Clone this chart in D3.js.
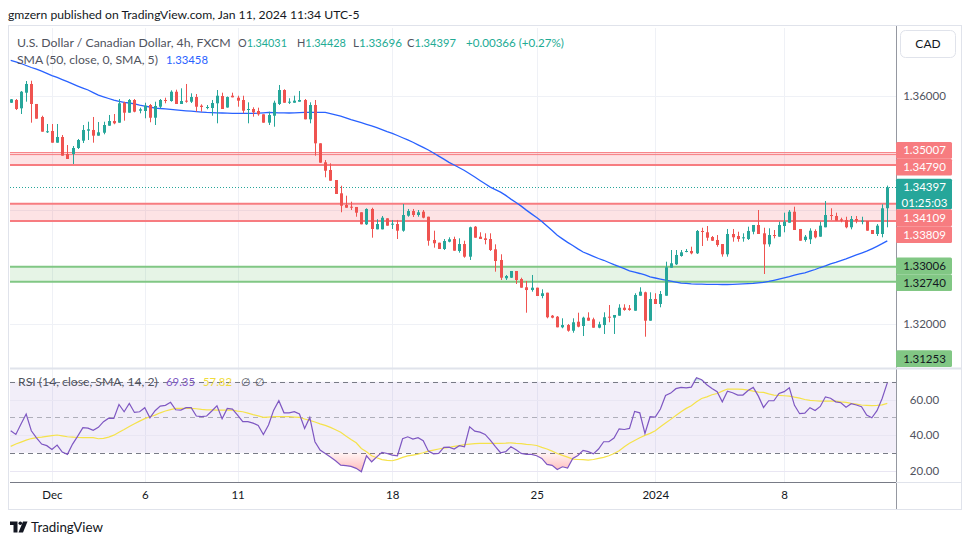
<!DOCTYPE html>
<html><head><meta charset="utf-8">
<script src="https://cdn.jsdelivr.net/npm/d3@7"></script>
<style>
html,body{margin:0;padding:0;background:#fff;}
svg text{font-family:Lato,"Open Sans",Roboto,sans-serif;}
</style></head><body>
<svg id="c" width="970" height="545"></svg>
<script>
// ---------------- DATA ----------------
const openP = [1.35882,1.35930,1.35784,1.36058,1.36211,1.35860,1.35632,1.35374,1.35386,1.35181,
1.35281,1.34982,1.34982,1.35088,1.35216,1.35391,1.35404,1.35304,1.35356,1.35479,
1.35561,1.35532,1.35882,1.35707,1.35930,1.35742,1.35737,1.35842,1.35619,1.35812,
1.35930,1.35912,1.36075,1.35860,1.35918,1.35900,1.35982,1.35830,1.35789,1.35789,
1.35872,1.36000,1.35798,1.36005,1.35970,1.35930,1.35763,1.35772,1.35737,1.35679,
1.35532,1.35654,1.35860,1.36105,1.35882,1.35882,1.35900,1.35930,1.35591,1.35842,
1.35170,1.34837,1.34702,1.34526,1.34293,1.34088,1.34058,1.34053,1.33960,1.33749,
1.34018,1.33661,1.33661,1.33854,1.33749,1.33754,1.33637,1.33900,1.33982,1.33912,
1.33970,1.33882,1.33474,1.33426,1.33316,1.33444,1.33491,1.33281,1.33403,1.33181,
1.33707,1.33532,1.33503,1.33491,1.33310,1.33123,1.32802,1.32812,1.32930,1.32789,
1.32644,1.32596,1.32637,1.32491,1.32549,1.32146,1.32128,1.31942,1.31982,1.31882,
1.32040,1.31965,1.32111,1.32082,1.31935,1.31982,1.32128,1.32111,1.32146,1.32286,
1.32275,1.32233,1.32496,1.32556,1.32058,1.32439,1.32351,1.32496,1.32988,1.33047,
1.33193,1.33263,1.33281,1.33240,1.33632,1.33609,1.33526,1.33474,1.33403,1.33223,
1.33579,1.33544,1.33503,1.33491,1.33619,1.33737,1.33591,1.33398,1.33561,1.33532,
1.33719,1.33777,1.33970,1.33667,1.33474,1.33486,1.33632,1.33532,1.33697,1.33912,
1.33895,1.33837,1.33825,1.33697,1.33842,1.33795,1.33807,1.33649,1.33579,1.33579,
1.34031];
const highP = [1.35947,1.35947,1.36088,1.36263,1.36268,1.35860,1.35654,1.35509,1.35509,1.35509,
1.35316,1.35140,1.35123,1.35246,1.35491,1.35549,1.35632,1.35544,1.35549,1.35667,
1.35684,1.35947,1.35900,1.35947,1.35947,1.35795,1.35882,1.35860,1.35900,1.35947,
1.35970,1.36100,1.36111,1.36135,1.36211,1.36047,1.36035,1.35854,1.35842,1.35930,
1.36105,1.36058,1.35991,1.36058,1.36005,1.36005,1.35889,1.35802,1.35795,1.35679,
1.35725,1.35918,1.36193,1.36118,1.35960,1.36005,1.36088,1.35947,1.35889,1.35930,
1.35170,1.34877,1.34819,1.34526,1.34426,1.34251,1.34146,1.34053,1.33960,1.34030,
1.34040,1.33837,1.33895,1.33854,1.33825,1.33825,1.34105,1.34018,1.34018,1.34000,
1.34000,1.33882,1.33637,1.33426,1.33491,1.33521,1.33532,1.33503,1.33461,1.33707,
1.33719,1.33609,1.33591,1.33591,1.33398,1.33223,1.32860,1.32930,1.32930,1.32812,
1.32754,1.32860,1.32637,1.32609,1.32549,1.32158,1.32140,1.32100,1.32000,1.32100,
1.32198,1.32128,1.32205,1.32111,1.32040,1.32205,1.32333,1.32158,1.32346,1.32346,
1.32333,1.32539,1.32644,1.32567,1.32556,1.32539,1.32579,1.33093,1.33298,1.33298,
1.33298,1.33316,1.33356,1.33649,1.33689,1.33719,1.33544,1.33561,1.33403,1.33667,
1.33667,1.33619,1.33591,1.33707,1.33737,1.34000,1.33689,1.33679,1.33649,1.33795,
1.33953,1.34000,1.34058,1.33667,1.33561,1.33679,1.33661,1.33795,1.34158,1.34030,
1.33953,1.33865,1.33882,1.33895,1.33895,1.33882,1.33807,1.33649,1.33754,1.34100,
1.34428];
const lowP = [1.35877,1.35754,1.35684,1.35900,1.35532,1.35602,1.35374,1.35351,1.35181,1.35181,
1.34953,1.34895,1.34807,1.35070,1.35175,1.35228,1.35181,1.35304,1.35328,1.35479,
1.35504,1.35532,1.35567,1.35707,1.35714,1.35696,1.35609,1.35539,1.35491,1.35784,
1.35872,1.35900,1.35860,1.35860,1.35882,1.35877,1.35725,1.35725,1.35767,1.35654,
1.35521,1.35772,1.35795,1.35977,1.35812,1.35696,1.35521,1.35637,1.35654,1.35532,
1.35491,1.35461,1.35842,1.35882,1.35860,1.35882,1.35900,1.35591,1.35521,1.34953,
1.34830,1.34574,1.34514,1.34281,1.33960,1.34040,1.34000,1.33882,1.33749,1.33737,
1.33514,1.33661,1.33661,1.33725,1.33667,1.33491,1.33619,1.33882,1.33877,1.33882,
1.33854,1.33374,1.33339,1.33316,1.33298,1.33433,1.33286,1.33251,1.33163,1.33123,
1.33514,1.33491,1.33398,1.33281,1.32918,1.32772,1.32772,1.32807,1.32702,1.32637,
1.32198,1.32567,1.32491,1.32451,1.32100,1.32100,1.31942,1.31925,1.31865,1.31847,
1.31942,1.31789,1.32058,1.31935,1.31925,1.31825,1.32030,1.31825,1.32146,1.32233,
1.32233,1.32233,1.32496,1.31777,1.32058,1.32351,1.32293,1.32496,1.32988,1.33035,
1.33181,1.33258,1.33223,1.33228,1.33368,1.33461,1.33456,1.33356,1.33181,1.33181,
1.33444,1.33444,1.33444,1.33474,1.33574,1.33579,1.32877,1.33356,1.33503,1.33532,
1.33609,1.33777,1.33649,1.33461,1.33444,1.33403,1.33503,1.33532,1.33697,1.33825,
1.33812,1.33784,1.33679,1.33661,1.33767,1.33749,1.33637,1.33579,1.33544,1.33521,
1.33696];
const closeP = [1.35942,1.35772,1.36075,1.36211,1.35860,1.35602,1.35374,1.35381,1.35181,1.35281,
1.34953,1.34895,1.35088,1.35228,1.35404,1.35416,1.35304,1.35363,1.35491,1.35561,
1.35521,1.35872,1.35707,1.35930,1.35725,1.35767,1.35830,1.35619,1.35825,1.35930,
1.35912,1.36075,1.35860,1.35912,1.35907,1.35982,1.35812,1.35807,1.35807,1.35877,
1.36005,1.35772,1.35982,1.35977,1.35918,1.35742,1.35772,1.35714,1.35679,1.35532,
1.35667,1.35882,1.36105,1.35882,1.35900,1.35918,1.35930,1.35591,1.35842,1.35170,
1.34830,1.34689,1.34514,1.34281,1.34075,1.34040,1.34040,1.33953,1.33749,1.34018,
1.33667,1.33754,1.33865,1.33725,1.33760,1.33637,1.33912,1.33982,1.33912,1.33960,
1.33865,1.33461,1.33416,1.33316,1.33456,1.33486,1.33286,1.33403,1.33181,1.33697,
1.33514,1.33491,1.33474,1.33298,1.33105,1.32812,1.32842,1.32930,1.32772,1.32637,
1.32596,1.32637,1.32491,1.32539,1.32118,1.32111,1.31942,1.31982,1.31882,1.32030,
1.31953,1.32111,1.32058,1.31935,1.31995,1.32118,1.32111,1.32158,1.32286,1.32246,
1.32246,1.32509,1.32567,1.32058,1.32439,1.32351,1.32526,1.32995,1.33065,1.33211,
1.33258,1.33281,1.33240,1.33632,1.33619,1.33514,1.33461,1.33386,1.33223,1.33579,
1.33521,1.33491,1.33521,1.33632,1.33737,1.33579,1.33398,1.33561,1.33544,1.33737,
1.33795,1.33970,1.33649,1.33461,1.33532,1.33637,1.33521,1.33725,1.33912,1.33895,
1.33812,1.33812,1.33697,1.33842,1.33812,1.33812,1.33637,1.33579,1.33725,1.34030,
1.34397];
const sma50 = [1.36626,1.36600,1.36570,1.36535,1.36500,1.36470,1.36435,1.36398,1.36358,1.36325,
1.36289,1.36251,1.36212,1.36175,1.36140,1.36105,1.36060,1.36014,1.35986,1.35956,
1.35926,1.35905,1.35889,1.35877,1.35863,1.35839,1.35821,1.35807,1.35789,1.35781,
1.35774,1.35765,1.35758,1.35749,1.35740,1.35733,1.35726,1.35718,1.35711,1.35707,
1.35705,1.35702,1.35698,1.35696,1.35696,1.35696,1.35696,1.35696,1.35698,1.35705,
1.35711,1.35709,1.35705,1.35704,1.35702,1.35704,1.35709,1.35711,1.35711,1.35711,
1.35711,1.35711,1.35691,1.35670,1.35646,1.35618,1.35586,1.35558,1.35532,1.35504,
1.35475,1.35444,1.35409,1.35375,1.35344,1.35307,1.35268,1.35230,1.35188,1.35144,
1.35100,1.35053,1.35000,1.34946,1.34893,1.34835,1.34789,1.34742,1.34693,1.34637,
1.34579,1.34519,1.34461,1.34402,1.34358,1.34314,1.34256,1.34191,1.34133,1.34068,
1.33998,1.33932,1.33867,1.33800,1.33719,1.33639,1.33556,1.33493,1.33432,1.33377,
1.33318,1.33263,1.33225,1.33188,1.33149,1.33118,1.33079,1.33040,1.33005,1.32970,
1.32933,1.32909,1.32886,1.32860,1.32825,1.32807,1.32788,1.32770,1.32753,1.32735,
1.32718,1.32711,1.32704,1.32700,1.32698,1.32696,1.32696,1.32695,1.32693,1.32693,
1.32696,1.32700,1.32704,1.32707,1.32711,1.32721,1.32732,1.32747,1.32767,1.32788,
1.32811,1.32832,1.32856,1.32879,1.32898,1.32926,1.32956,1.32991,1.33019,1.33053,
1.33081,1.33112,1.33144,1.33179,1.33211,1.33244,1.33277,1.33319,1.33363,1.33409,
1.33458];
const rsiValues = [42.4,40.3,46.2,51.8,42.4,38.4,34.9,34.0,31.9,34.3,
30.4,29.1,34.9,39.4,44.1,43.9,42.6,44.3,47.5,49.5,
49.3,57.2,53.1,57.8,52.7,53.1,55.4,49.7,53.7,56.3,
56.7,58.4,54.2,54.0,55.4,55.4,50.7,50.3,50.7,53.5,
56.5,49.2,55.0,54.6,51.2,47.5,47.5,46.7,45.4,40.3,
45.6,54.0,59.3,52.5,52.5,53.1,51.8,43.7,49.9,36.2,
31.5,29.6,27.6,25.5,23.0,22.7,22.3,21.2,19.3,28.3,
24.9,27.7,30.2,29.6,28.7,28.3,37.9,39.0,37.7,38.5,
36.8,30.9,29.4,29.6,33.0,33.2,32.1,34.0,33.4,44.6,
42.2,41.6,40.3,37.1,33.4,30.0,30.6,33.4,31.7,29.6,
29.1,29.1,28.3,26.8,23.4,22.9,20.6,22.1,21.4,26.8,
28.5,31.3,30.6,29.4,32.1,36.2,36.2,38.3,43.5,43.1,
43.7,53.3,52.5,40.9,50.3,50.1,54.6,62.3,63.6,66.1,
66.8,66.6,67.0,72.3,71.1,68.3,66.2,64.4,58.7,64.7,
63.8,62.5,62.5,65.1,66.8,61.9,55.5,59.3,59.3,63.4,
64.4,66.6,56.7,52.0,52.3,55.4,53.8,56.1,61.5,60.7,
58.7,58.2,55.7,57.6,56.9,55.9,51.2,49.7,53.7,60.6,
69.35];
const rsiMaValues = [33.6,34.9,36.0,37.1,38.0,38.5,38.8,39.2,39.6,40.0,
39.5,39.0,38.8,38.6,38.5,38.6,38.5,37.9,38.1,38.8,
39.9,41.6,43.1,44.8,46.3,47.8,49.2,50.3,51.2,52.5,
53.5,54.3,55.0,55.0,55.0,55.0,54.8,54.4,54.2,54.2,
54.0,54.0,54.0,54.0,53.5,53.1,52.3,51.5,50.8,49.9,
50.1,50.3,50.3,50.3,50.3,50.1,49.9,49.0,48.2,47.3,
46.3,45.4,44.3,43.0,41.6,39.5,37.5,35.6,32.4,30.6,
28.3,27.2,26.1,25.7,25.5,26.3,27.4,28.2,28.7,29.2,
30.0,30.9,31.5,32.1,32.6,33.0,33.6,34.0,34.6,34.9,
35.1,35.3,35.3,35.3,35.3,35.3,35.4,35.6,35.3,35.1,
34.7,34.5,34.1,33.0,32.1,30.9,29.6,28.5,27.5,26.4,
26.2,26.1,25.9,26.2,26.8,27.4,28.3,29.6,31.1,33.4,
35.3,36.9,38.5,39.8,40.9,42.4,44.6,46.7,48.8,51.0,
53.1,55.0,56.5,58.7,60.6,61.5,62.7,63.4,64.7,65.9,
65.9,65.9,65.7,65.3,64.7,64.2,64.0,63.2,62.5,62.3,
62.1,61.9,61.3,60.8,60.0,59.5,59.3,59.1,59.1,59.1,
59.1,58.7,58.4,57.8,57.4,56.9,56.7,56.5,56.7,57.0,
57.82];
const tickLabels = ["Dec","6","11","18","25","2024","8"];
const tickIndex  = [8,26,44,74,102,125,150];
const priceGrid  = [1.36,1.34,1.32];
const priceAxisTicks = [1.36,1.32];
const rsiGrid    = [60,40,20];
const rsiBands   = [70,50,30];
const redZones   = [[1.35007,1.34790],[1.34109,1.33809]];
const redZoneInnerEdge = 1.34972;
const greenZones = [[1.33006,1.32740]];
const markerValues = [1.35007,1.34790,1.34397,1.34109,1.33809,1.33006,1.32740,1.31253];
const markerKinds  = ["red","red","price","red","red","green","green","green"];
const countdown = "01:25:03";

// ---------------- LAYOUT ----------------
const svg = d3.select("#c");
const L = 10, R = 896, mainT = 28, mainB = 368, rsiT = 370, rsiB = 482, axB = 508;
const n = closeP.length;
const x = d3.scaleLinear().domain([0, n-1]).range([10.7, 887.3]);
const y = d3.scaleLinear().domain([1.32, 1.36]).range([324, 96]);
const yr = d3.scaleLinear().domain([20, 60]).range([470.5, 399.5]);
const GREEN="#26a69a", RED="#ef5350";

const defs = svg.append("defs");
defs.append("clipPath").attr("id","mainClip").append("rect").attr("x",L).attr("y",mainT).attr("width",R-L).attr("height",mainB-mainT);
defs.append("clipPath").attr("id","rsiClip").append("rect").attr("x",L).attr("y",rsiT).attr("width",R-L).attr("height",rsiB-rsiT);
const gOS = defs.append("linearGradient").attr("id","osGrad").attr("x1",0).attr("y1",0).attr("x2",0).attr("y2",1);
gOS.append("stop").attr("offset","0%").attr("stop-color","#ff5252").attr("stop-opacity",0.06);
gOS.append("stop").attr("offset","100%").attr("stop-color","#ff5252").attr("stop-opacity",0.4);
const gOB = defs.append("linearGradient").attr("id","obGrad").attr("x1",0).attr("y1",1).attr("x2",0).attr("y2",0);
gOB.append("stop").attr("offset","0%").attr("stop-color","#26a69a").attr("stop-opacity",0.06);
gOB.append("stop").attr("offset","100%").attr("stop-color","#26a69a").attr("stop-opacity",0.4);

// frame
svg.append("rect").attr("x",8.5).attr("y",25.5).attr("width",953).attr("height",484).attr("fill","none").attr("stroke","#e0e3eb");

// header
const header = svg.append("text").attr("x",8).attr("y",19).attr("font-size",13).attr("fill","#131722")
  .text("gmzern published on TradingView.com, Jan 11, 2024 11:34 UTC-5");

// grid
const grid = svg.append("g");
grid.selectAll(".vg").data(tickIndex).join("line")
  .attr("x1",d=>Math.round(x(d))+0.5).attr("x2",d=>Math.round(x(d))+0.5)
  .attr("y1",mainT).attr("y2",rsiB).attr("stroke","#eff1f6");
grid.selectAll(".hg").data(priceGrid).join("line")
  .attr("x1",L).attr("x2",R).attr("y1",d=>Math.round(y(d))+0.5).attr("y2",d=>Math.round(y(d))+0.5).attr("stroke","#eff1f6");

// main pane
const main = svg.append("g").attr("clip-path","url(#mainClip)");
redZones.forEach(z=>{
  main.append("rect").attr("x",L).attr("width",R-L).attr("y",y(z[0])).attr("height",y(z[1])-y(z[0])).attr("fill","rgba(242,54,69,0.14)");
  main.append("line").attr("x1",L).attr("x2",R).attr("y1",y(z[0])).attr("y2",y(z[0])).attr("stroke","#f77c80").attr("stroke-width",z===redZones[0]?1:2);
  main.append("line").attr("x1",L).attr("x2",R).attr("y1",y(z[1])).attr("y2",y(z[1])).attr("stroke","#f77c80").attr("stroke-width",2);
});
main.append("line").attr("x1",L).attr("x2",R).attr("y1",y(redZoneInnerEdge)).attr("y2",y(redZoneInnerEdge)).attr("stroke","#f77c80").attr("stroke-width",1);
greenZones.forEach(z=>{
  main.append("rect").attr("x",L).attr("width",R-L).attr("y",y(z[0])).attr("height",y(z[1])-y(z[0])).attr("fill","rgba(76,175,80,0.14)");
  [z[0],z[1]].forEach(v=>main.append("line").attr("x1",L).attr("x2",R).attr("y1",y(v)).attr("y2",y(v)).attr("stroke","#81c784").attr("stroke-width",2));
});
// current price line
const last = closeP[n-1];
main.append("line").attr("x1",L).attr("x2",R).attr("y1",Math.round(y(last))+0.5).attr("y2",Math.round(y(last))+0.5)
  .attr("stroke",GREEN).attr("stroke-dasharray","1,2");

// SMA line
main.append("path").datum(sma50).attr("fill","none").attr("stroke","#2962ff").attr("stroke-width",1.3)
  .attr("d", d3.line().x((d,i)=>x(i)).y(d=>y(d)));

// candles
const idx = d3.range(n);
const cg = main.append("g");
cg.selectAll(".wick").data(idx).join("line")
  .attr("x1",i=>Math.round(x(i))+0.5).attr("x2",i=>Math.round(x(i))+0.5)
  .attr("y1",i=>y(highP[i])).attr("y2",i=>y(lowP[i]))
  .attr("stroke",i=>closeP[i]>=openP[i]?GREEN:RED).attr("stroke-width",1);
cg.selectAll(".body").data(idx).join("rect")
  .attr("x",i=>Math.round(x(i))-1).attr("width",3)
  .attr("y",i=>y(Math.max(openP[i],closeP[i])))
  .attr("height",i=>Math.max(1, Math.abs(y(openP[i])-y(closeP[i]))))
  .attr("fill",i=>closeP[i]>=openP[i]?GREEN:RED);

// legend
function fit(sel, w){ const len = sel.node().getComputedTextLength(); if(len>0){ sel.attr("font-size", (+sel.attr("font-size"))*w/len); } return sel; }
fit(header, 352);
const legendGrey = "#50535e";
const t1 = svg.append("text").attr("x",17).attr("y",46.5).attr("font-size",12).attr("fill",legendGrey).text("U.S. Dollar / Canadian Dollar, 4h, FXCM");
fit(t1, 214);
const fmt5 = d3.format(".5f");
const ohlcLabels = [["O",openP[n-1],238],["H",highP[n-1],297],["L",lowP[n-1],353],["C",closeP[n-1],407]];
ohlcLabels.forEach(([k,v,px])=>{
  const t = svg.append("text").attr("x",px).attr("y",46.5).attr("font-size",12);
  t.append("tspan").attr("fill",legendGrey).text(k);
  t.append("tspan").attr("fill","#22ab94").text(fmt5(v));
  fit(t, 49);
});
const chg = closeP[n-1]-openP[n-1];
const tchg = svg.append("text").attr("x",466).attr("y",46.5).attr("font-size",12).attr("fill","#22ab94")
  .text((chg>=0?"+":"")+fmt5(chg)+" ("+(chg>=0?"+":"")+d3.format(".2f")(chg/openP[n-1]*100)+"%)");
fit(tchg, 98);
const t2 = svg.append("text").attr("x",17).attr("y",63.5).attr("font-size",12).attr("fill",legendGrey).text("SMA (50, close, 0, SMA, 5)");
fit(t2, 141);
const t2v = svg.append("text").attr("x",166).attr("y",63.5).attr("font-size",12).attr("fill","#2962ff").text(fmt5(sma50[n-1]));
fit(t2v, 42);

// RSI pane
const rsiG = svg.append("g").attr("clip-path","url(#rsiClip)");
rsiG.append("rect").attr("x",L).attr("width",R-L).attr("y",yr(70)).attr("height",yr(30)-yr(70)).attr("fill","rgba(126,87,194,0.1)");
rsiG.selectAll(".rg").data(rsiGrid).join("line").attr("x1",L).attr("x2",R)
  .attr("y1",d=>Math.round(yr(d))+0.5).attr("y2",d=>Math.round(yr(d))+0.5).attr("stroke","#e9e6f3");
rsiG.selectAll(".rb").data(rsiBands).join("line").attr("x1",L).attr("x2",R)
  .attr("y1",d=>Math.round(yr(d))+0.5).attr("y2",d=>Math.round(yr(d))+0.5)
  .attr("stroke",d=>d===50?"rgba(120,123,134,0.55)":"#787b86").attr("stroke-dasharray","5,4");
rsiG.append("path").datum(rsiValues).attr("fill","url(#osGrad)")
  .attr("d", d3.area().x((d,i)=>x(i)).y0(yr(30)).y1(d=>yr(Math.min(d,30))));
rsiG.append("path").datum(rsiValues).attr("fill","url(#obGrad)")
  .attr("d", d3.area().x((d,i)=>x(i)).y0(yr(70)).y1(d=>yr(Math.max(d,70))));
rsiG.append("path").datum(rsiMaValues).attr("fill","none").attr("stroke","#f5e24b").attr("stroke-width",1.2)
  .attr("d", d3.line().x((d,i)=>x(i)).y(d=>yr(d)));
rsiG.append("path").datum(rsiValues).attr("fill","none").attr("stroke","#7e57c2").attr("stroke-width",1.2)
  .attr("d", d3.line().x((d,i)=>x(i)).y(d=>yr(d)));

const r1 = svg.append("text").attr("x",18).attr("y",385.5).attr("font-size",12).attr("fill",legendGrey).text("RSI (14, close, SMA, 14, 2)");
fit(r1, 140);
const r2 = svg.append("text").attr("x",166).attr("y",385.5).attr("font-size",12).attr("fill","#7e57c2").text(d3.format(".2f")(rsiValues[n-1]));
fit(r2, 29);
const r3 = svg.append("text").attr("x",203).attr("y",385.5).attr("font-size",12).attr("fill","#f0dc3c").text(d3.format(".2f")(rsiMaValues[n-1]));
fit(r3, 29);
svg.append("text").attr("x",241).attr("y",385.5).attr("font-size",11).attr("fill",legendGrey).text("\u2205");
svg.append("text").attr("x",255).attr("y",385.5).attr("font-size",11).attr("fill",legendGrey).text("\u2205");

// separators
svg.append("line").attr("x1",L).attr("x2",R).attr("y1",368.5).attr("y2",368.5).attr("stroke","#e0e3eb").attr("stroke-width",2);
svg.append("line").attr("x1",L).attr("x2",R).attr("y1",482.5).attr("y2",482.5).attr("stroke","#787b86");
svg.append("line").attr("x1",R+0.5).attr("x2",R+0.5).attr("y1",mainT-2).attr("y2",axB+1).attr("stroke","#9598a1");
svg.append("line").attr("x1",R).attr("x2",961).attr("y1",368.5).attr("y2",368.5).attr("stroke","#e0e3eb").attr("stroke-width",2);
svg.append("line").attr("x1",R).attr("x2",961).attr("y1",482.5).attr("y2",482.5).attr("stroke","#e0e3eb");

// x axis
const xAxis = d3.axisBottom(x).tickValues(tickIndex).tickFormat((d,i)=>tickLabels[i]).tickSize(0).tickPadding(0);
const xa = svg.append("g").attr("transform","translate(0,498.5)").call(xAxis);
xa.select(".domain").remove();
xa.selectAll("text").attr("font-size",11.5).attr("fill","#131722").attr("dy",0).attr("y",0)
  .attr("font-family","Lato, 'Open Sans', sans-serif");

// price axis
const pa = d3.axisRight(y).tickValues(priceAxisTicks).tickFormat(d3.format(".5f")).tickSize(0).tickPadding(0);
const pag = svg.append("g").attr("transform","translate(924.5,0)").call(pa);
pag.select(".domain").remove();
pag.selectAll("text").attr("font-size",11.5).attr("fill","#50535e").attr("text-anchor","middle").attr("x",0)
  .attr("font-family","Lato, 'Open Sans', sans-serif");
const ra = d3.axisRight(yr).tickValues(rsiGrid).tickFormat(d3.format(".2f")).tickSize(0).tickPadding(0);
const rag = svg.append("g").attr("transform","translate(924.5,0)").call(ra);
rag.select(".domain").remove();
rag.selectAll("text").attr("font-size",11.5).attr("fill","#50535e").attr("text-anchor","middle").attr("x",0)
  .attr("font-family","Lato, 'Open Sans', sans-serif");

// marker labels with collision resolution
let items = markerValues.map((v,k)=>({v, kind:markerKinds[k], c:y(v),
  up: markerKinds[k]==="price"?8.5:8.4, down: markerKinds[k]==="price"?22:8.4, fixed: markerKinds[k]==="price"}));
items.sort((a,b)=>a.c-b.c);
for(let it=0; it<200; it++){
  for(let k=1;k<items.length;k++){
    const a=items[k-1], b=items[k];
    const ov = (a.c+a.down)-(b.c-b.up);
    if(ov>0.01){
      if(a.fixed) b.c+=ov; else if(b.fixed) a.c-=ov; else {a.c-=ov/2; b.c+=ov/2;}
    }
  }
  items.forEach(d=>{ if(d.c+d.down>mainB-1) d.c=mainB-1-d.down; if(d.c-d.up<mainT) d.c=mainT+d.up; });
}
const colors = {red:["#f77c80","#ffffff"], green:["#81c784","#131722"], price:["#26a69a","#ffffff"]};
const mg = svg.append("g");
items.forEach(d=>{
  const [bg,fg] = colors[d.kind];
  mg.append("rect").attr("x",R).attr("y",d.c-d.up).attr("width",56).attr("height",d.up+d.down).attr("fill",bg).attr("rx",1.5);
  mg.append("text").attr("x",924.5).attr("y",d.c+4).attr("text-anchor","middle").attr("font-size",11.5).attr("fill",fg).text(fmt5(d.v));
  if(d.kind==="price") mg.append("text").attr("x",924.5).attr("y",d.c+20).attr("text-anchor","middle").attr("font-size",11.5).attr("fill",fg).text(countdown);
});

// CAD button
svg.append("rect").attr("x",900.5).attr("y",30.5).attr("width",55).attr("height",27).attr("rx",5).attr("fill","#fff").attr("stroke","#e0e3eb");
svg.append("text").attr("x",928).attr("y",48).attr("text-anchor","middle").attr("font-size",12).attr("fill","#131722").text("CAD");

// footer logo
const fg = svg.append("g").attr("fill","#131722");
fg.append("path").attr("d","M10,521.5 H17.5 V532.5 H13.5 V525 H10 Z");
fg.append("circle").attr("cx",20.3).attr("cy",523.3).attr("r",1.8);
fg.append("path").attr("d","M23,521.5 H27.5 L23,532.5 H18.5 Z");
const ft = svg.append("text").attr("x",31).attr("y",532).attr("font-size",13).attr("fill","#131722").text("TradingView");
fit(ft, 72);
</script>
</body></html>
